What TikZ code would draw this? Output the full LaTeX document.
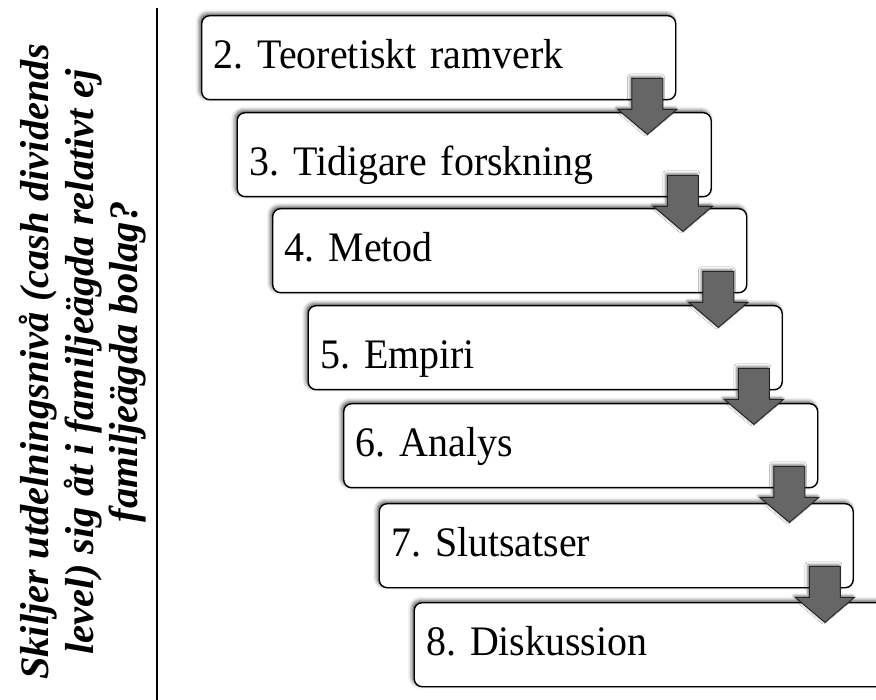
\documentclass[tikz,border=0pt]{standalone}
\usepackage{fontspec}
\setmainfont{Liberation Serif}
\newfontfamily\rutafont[FakeStretch=0.95]{Liberation Serif}
\usetikzlibrary{calc,shadows.blur}
\frenchspacing

\begin{document}
\begin{tikzpicture}[
    x=1pt, y=-1pt,
    box/.style={rectangle, rounded corners=8pt, draw, line width=1.4pt,
                fill=white, anchor=north west, align=left,
                text width=450pt, inner xsep=12pt, inner ysep=0pt,
                minimum height=84pt, text height=31pt, text depth=9pt,
                font=\rutafont\fontsize{42}{48}\selectfont,
                blur shadow={shadow xshift=-2pt, shadow yshift=2pt,
                             shadow blur radius=4pt, shadow opacity=70}},
    lowtext/.style={text height=51pt},
    blockarrow/.style={draw=black!85, fill=black!60, line width=1pt,
                       line join=miter,
                       blur shadow={shadow xshift=-1.5pt, shadow yshift=1.5pt,
                                    shadow blur radius=3pt, shadow opacity=55}}
]
\useasboundingbox (0,0) rectangle (876,700);

% Fr\aa ga och skiljelinje
\node[rotate=90, align=center,
      font=\fontsize{40.5}{44.5}\selectfont\bfseries\itshape] (fraga) at (83,362)
    {Skiljer utdelningsniv\aa{} (cash dividends\\
     level) sig \aa t i familje\"agda relativt ej\\
     familje\"agda bolag?};

\coordinate (linjetopp) at (157,8);
\coordinate (linjebotten) at (157,700);
\draw[line width=1.3pt] (linjetopp) -- (linjebotten);

% Kapitel
\node[box] (b2) at (201,15)   {2. Teoretiskt ramverk};
\node[box, lowtext] (b3) at (236.5,112) {3. Tidigare forskning};
\node[box] (b4) at (272,208)  {4. Metod};
\node[box, lowtext] (b5) at (307.5,305) {5. Empiri};
\node[box] (b6) at (343,403)  {6. Analys};
\node[box] (b7) at (378.5,503) {7. Slutsatser};
\node[box] (b8) at (413.5,602) {8. Diskussion};

% Pilar
\draw[blockarrow] ($(b2.south east)+(-44.5,-22)$) -- ++(31,0) -- ++(0,31) -- ++(14,0)
    -- ++(-29.5,25) -- ++(-29.5,-25) -- ++(14,0) -- cycle;
\draw[blockarrow] ($(b3.south east)+(-44.5,-22)$) -- ++(31,0) -- ++(0,31) -- ++(14,0)
    -- ++(-29.5,25) -- ++(-29.5,-25) -- ++(14,0) -- cycle;
\draw[blockarrow] ($(b4.south east)+(-44.5,-22)$) -- ++(31,0) -- ++(0,31) -- ++(14,0)
    -- ++(-29.5,25) -- ++(-29.5,-25) -- ++(14,0) -- cycle;
\draw[blockarrow] ($(b5.south east)+(-44.5,-22)$) -- ++(31,0) -- ++(0,31) -- ++(14,0)
    -- ++(-29.5,25) -- ++(-29.5,-25) -- ++(14,0) -- cycle;
\draw[blockarrow] ($(b6.south east)+(-44.5,-22)$) -- ++(31,0) -- ++(0,31) -- ++(14,0)
    -- ++(-29.5,25) -- ++(-29.5,-25) -- ++(14,0) -- cycle;
\draw[blockarrow] ($(b7.south east)+(-44.5,-22)$) -- ++(31,0) -- ++(0,31) -- ++(14,0)
    -- ++(-29.5,25) -- ++(-29.5,-25) -- ++(14,0) -- cycle;

\end{tikzpicture}
\end{document}
